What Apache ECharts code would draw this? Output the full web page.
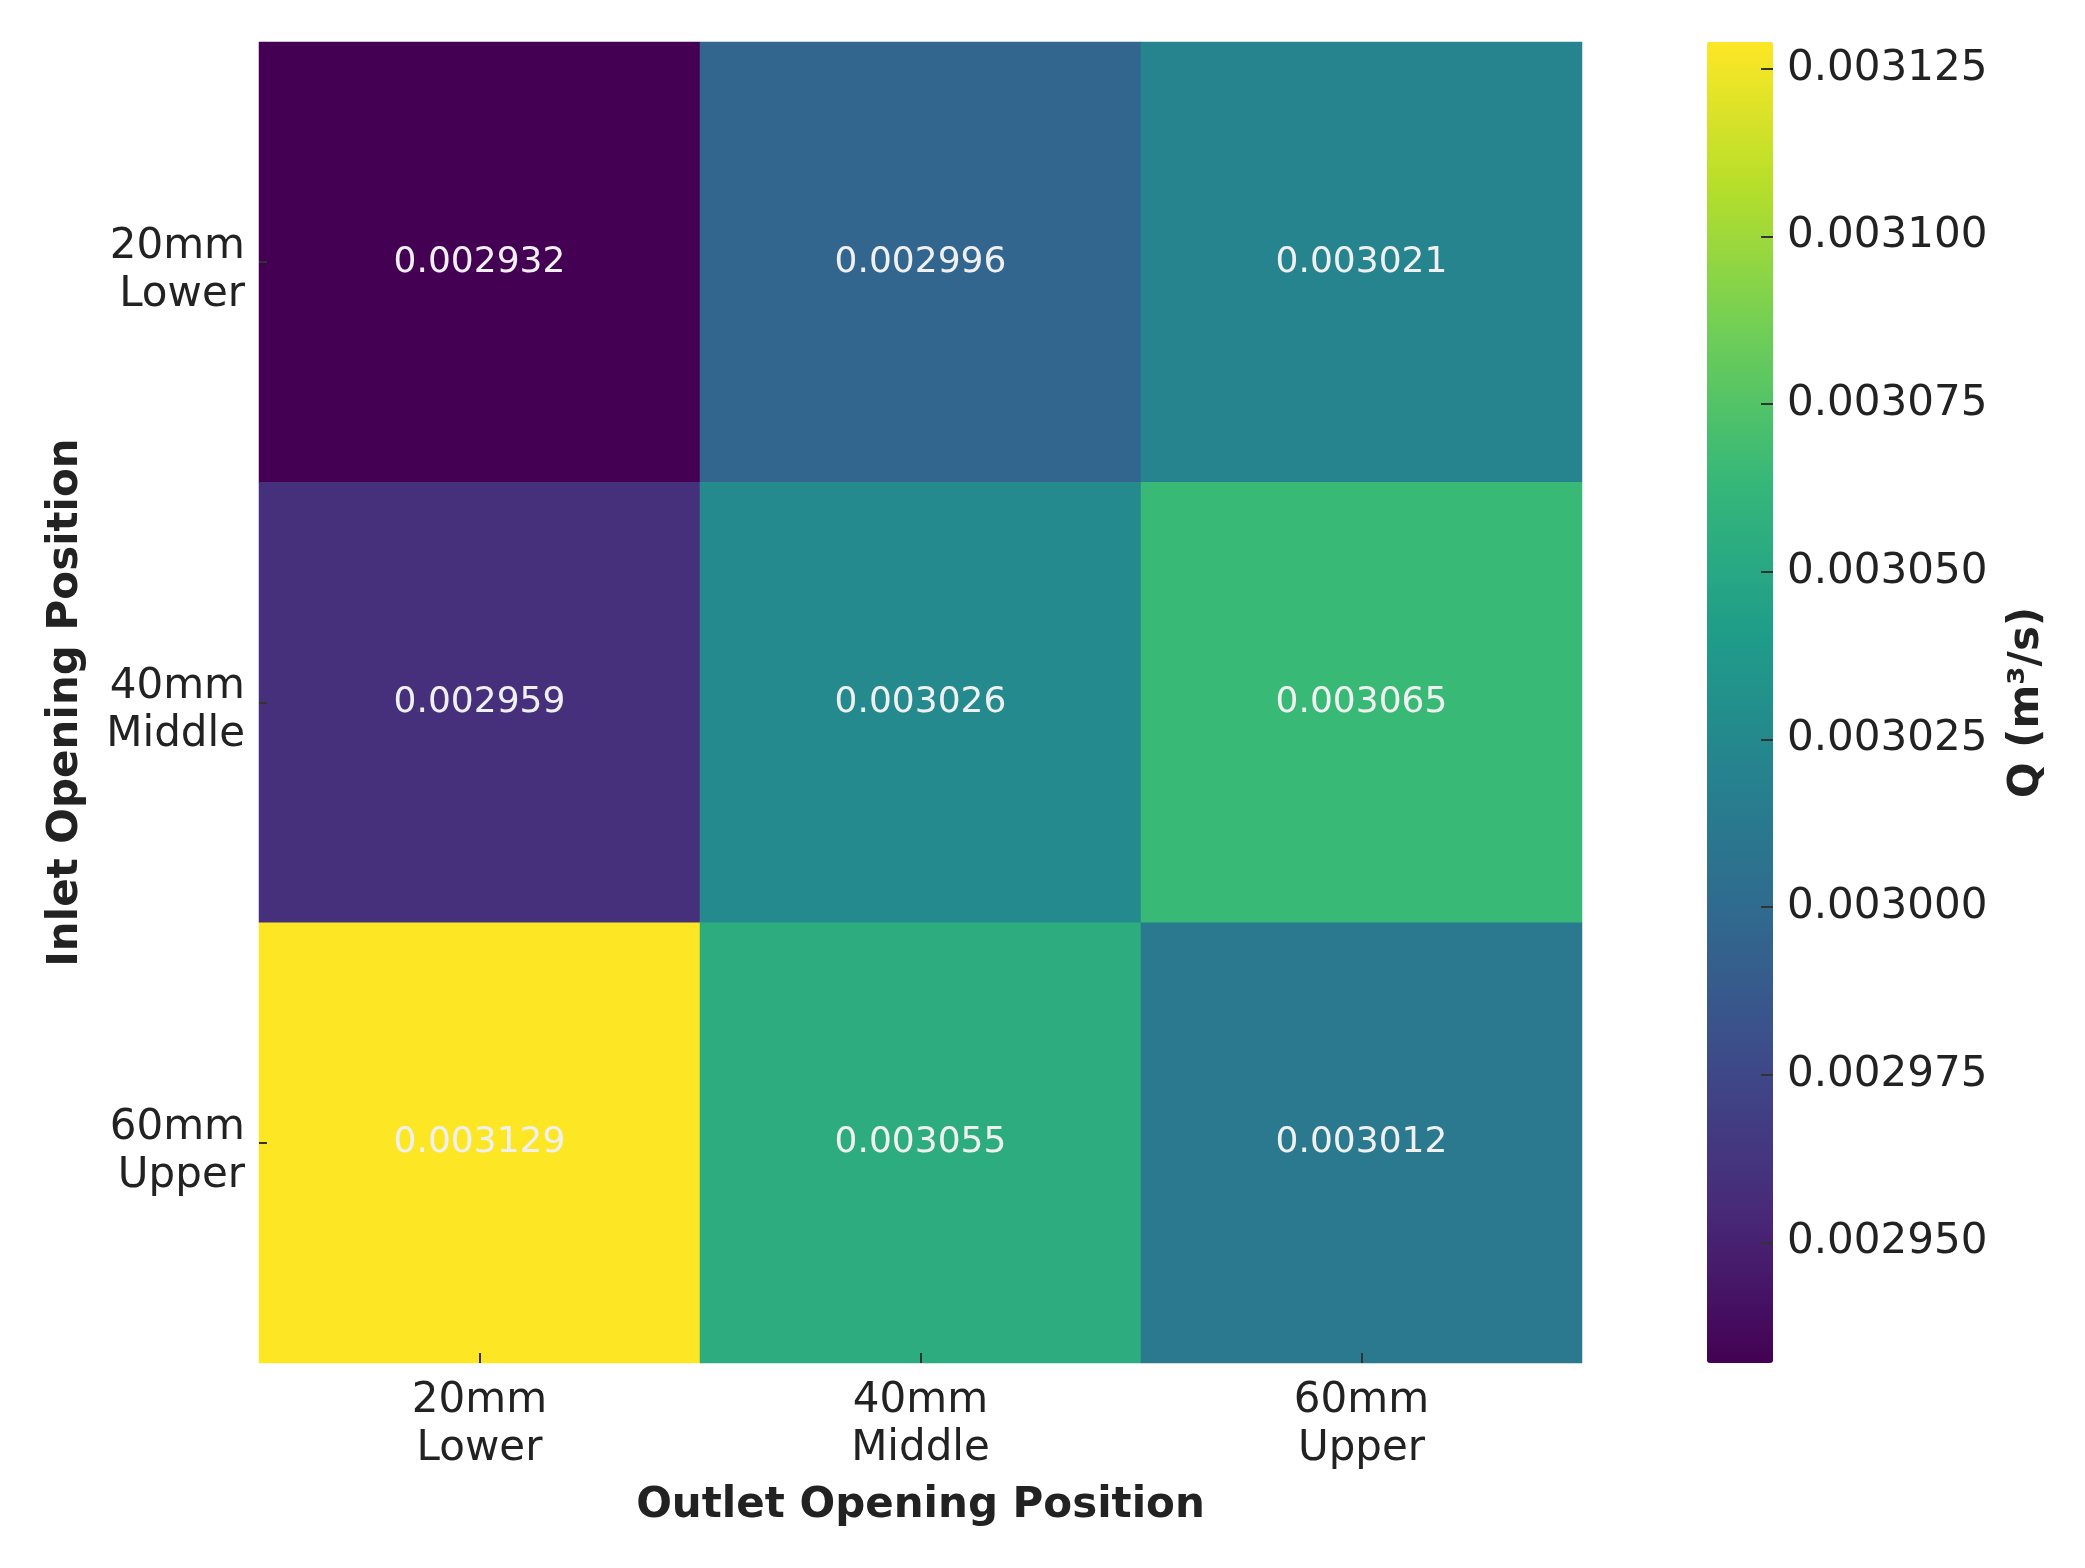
<!DOCTYPE html>
<html>
<head>
<meta charset="utf-8">
<title>Q heatmap</title>
<script src="https://cdn.jsdelivr.net/npm/echarts@6/dist/echarts.min.js"></script>
<style>
    html, body { margin: 0; padding: 0; background: #fff; }
    #main { width: 2085px; height: 1568px; }
</style>
</head>
<body>
<div id="main"></div>
<script>
// categories
var outletLabels = ['20mm\nLower', '40mm\nMiddle', '60mm\nUpper'];
var inletLabels = ['20mm\nLower', '40mm\nMiddle', '60mm\nUpper'];

// Q (m³/s), one row per inlet position, columns = outlet position
var inlet20 = [0.002932, 0.002996, 0.003021];
var inlet40 = [0.002959, 0.003026, 0.003065];
var inlet60 = [0.003129, 0.003055, 0.003012];

// colorbar
var qMin = 0.002932;
var qMax = 0.003129;
var colorbarTicks = [0.002950, 0.002975, 0.003000, 0.003025, 0.003050, 0.003075, 0.003100, 0.003125];
var viridis = ['#440154', '#482878', '#3e4989', '#31688e', '#26828e',
    '#1f9e89', '#35b779', '#6ece58', '#b5de2b', '#fde725'];

var rows = [inlet20, inlet40, inlet60];
var cells = [];
rows.forEach(function (row, y) {
    row.forEach(function (v, x) {
        cells.push([x, y, v]);
    });
});

var font = 'DejaVu Sans';
var textColor = '#222';

var chart = echarts.init(document.getElementById('main'));
var option = {
    backgroundColor: '#fff',
    textStyle: { fontFamily: font },
    grid: [
        { left: 259, top: 42, width: 1323, height: 1321 },
        { left: 1707, top: 42, width: 66, height: 1321 }
    ],
    xAxis: [
        {
            type: 'category',
            gridIndex: 0,
            data: outletLabels,
            position: 'bottom',
            name: 'Outlet Opening Position',
            nameLocation: 'middle',
            nameGap: 122,
            nameTextStyle: { fontSize: 42, fontWeight: 'bold', color: textColor, fontFamily: font },
            axisLine: { show: false },
            axisTick: { show: true, inside: true, alignWithLabel: true, length: 10, lineStyle: { color: '#333', width: 2 } },
            axisLabel: { fontSize: 42, lineHeight: 48, color: textColor, margin: 14, fontFamily: font },
            splitLine: { show: false },
            z: 10
        },
        { type: 'category', gridIndex: 1, show: false, data: ['bar'] }
    ],
    yAxis: [
        {
            type: 'category',
            gridIndex: 0,
            data: inletLabels,
            inverse: true,
            name: 'Inlet Opening Position',
            nameLocation: 'middle',
            nameRotate: 90,
            nameGap: 172,
            nameTextStyle: { fontSize: 42, fontWeight: 'bold', color: textColor, fontFamily: font },
            axisLine: { show: false },
            axisTick: { show: true, inside: true, alignWithLabel: true, length: 8, lineStyle: { color: '#333', width: 2 } },
            axisLabel: {
                fontSize: 42, lineHeight: 48, color: textColor, margin: 14, align: 'right', fontFamily: font,
                // small spacer line on top so the two-line label sits a bit lower, as in the original
                formatter: function (v) { return '{s| }\n' + v; },
                rich: { s: { fontSize: 10, lineHeight: 18 } }
            },
            splitLine: { show: false },
            z: 10
        },
        {
            type: 'value',
            gridIndex: 1,
            position: 'right',
            min: qMin,
            max: qMax,
            name: 'Q (m³/s)',
            nameLocation: 'middle',
            nameRotate: 90,
            nameGap: 233,
            nameTextStyle: { fontSize: 42, fontWeight: 'bold', color: textColor, fontFamily: font },
            axisLine: { show: false, onZero: false },
            axisTick: { show: true, inside: true, length: 12, customValues: colorbarTicks, lineStyle: { color: '#333', width: 2 } },
            axisLabel: {
                fontSize: 42, color: textColor, margin: 14, fontFamily: font,
                customValues: colorbarTicks,
                formatter: function (v) { return v.toFixed(6); }
            },
            splitLine: { show: false },
            z: 10
        }
    ],
    visualMap: {
        type: 'continuous',
        seriesIndex: 0,
        min: qMin,
        max: qMax,
        calculable: false,
        orient: 'vertical',
        left: 1707,
        top: 42,
        padding: 0,
        itemWidth: 66,
        itemHeight: 1321,
        text: null,
        hoverLink: false,
        z: 2,
        inRange: { color: viridis }
    },
    series: [
        {
            type: 'heatmap',
            xAxisIndex: 0,
            yAxisIndex: 0,
            data: cells,
            label: {
                show: true,
                fontSize: 36,
                color: '#f0f0f0',
                fontFamily: font,
                formatter: function (p) { return p.value[2].toFixed(6); }
            },
            itemStyle: { borderWidth: 0 },
            emphasis: { disabled: true }
        }
    ]
};
chart.setOption(option);
</script>
</body>
</html>
